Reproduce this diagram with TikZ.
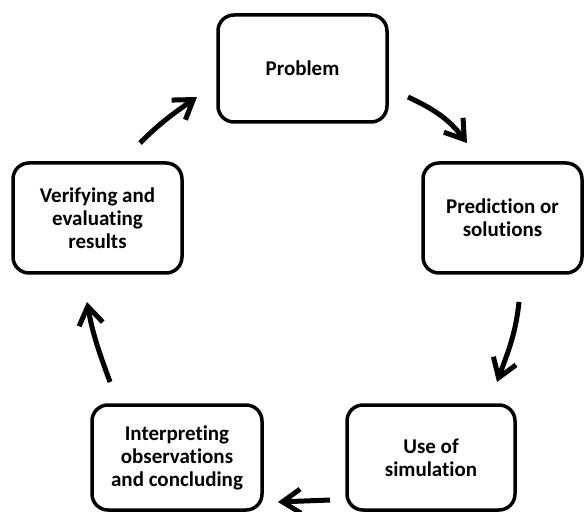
\documentclass[tikz,border=0pt]{standalone}
\usepackage{fontspec}
\setmainfont{Carlito}[Ligatures={NoCommon}]
\usetikzlibrary{arrows.meta}
\begin{document}
\begin{tikzpicture}[x=1pt,y=1pt,
  box/.style={draw=black, line width=3.5pt, rounded corners=16pt, rectangle,
    align=center, font=\fontsize{21}{23}\selectfont\bfseries, inner sep=0pt},
  arr/.style={line width=5pt, -{Straight Barb[length=18pt,width=24pt]}}]
\useasboundingbox (0,0) rectangle (585,511);
\node[box, minimum width=169pt, minimum height=107pt] (prob) at (302.5,442.5) {Problem};
\node[box, minimum width=159pt, minimum height=110pt] (pred) at (502.5,293) {Prediction or\\solutions};
\node[box, minimum width=169pt, minimum height=110pt] (verif) at (97.5,293) {Verifying and\\evaluating\\results};
\node[box, minimum width=170pt, minimum height=105pt] (interp) at (177,53.5) {Interpreting\\observations\\and concluding};
\node[box, minimum width=168pt, minimum height=105pt] (use) at (431,53.5) {Use of\\simulation};
\coordinate (s1) at (408,414); \coordinate (e1) at (467,368);
\coordinate (s2) at (519,209); \coordinate (e2) at (497,129);
\coordinate (s3) at (330,11);  \coordinate (e3) at (278,9);
\coordinate (s4) at (110,129); \coordinate (e4) at (87,209);
\coordinate (s5) at (140,368); \coordinate (e5) at (197,414);
\draw[arr] (s1) to[out=-25,in=127] (e1);
\draw[arr] (s2) to[out=-96,in=70] (e2);
\draw[arr] (s3) -- (e3);
\draw[arr] (s4) to[out=110,in=-80] (e4);
\draw[arr] (s5) to[out=45,in=-145] (e5);
\end{tikzpicture}
\end{document}
